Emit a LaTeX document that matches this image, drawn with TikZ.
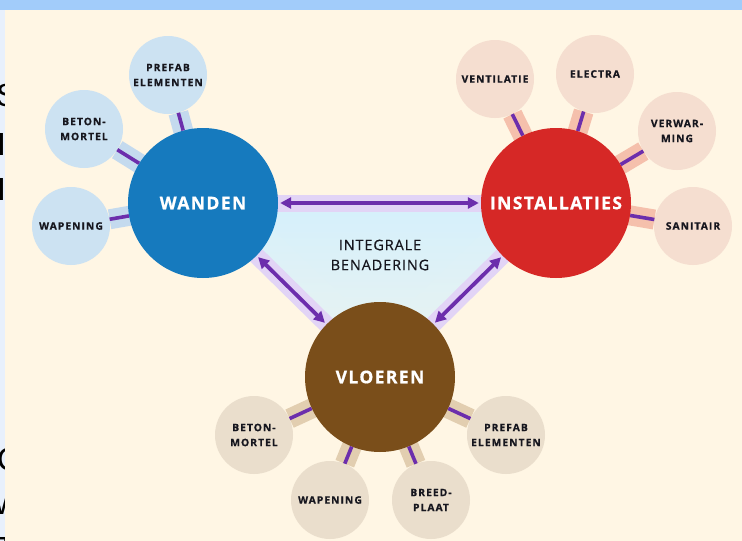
\documentclass[tikz,border=0pt]{standalone}
\usepackage{fontspec}
\setmainfont{Open Sans}
\newfontfamily\fragfont{Liberation Sans}
\usetikzlibrary{arrows.meta}
\definecolor{cream}{RGB}{255,246,228}
\definecolor{topband}{RGB}{162,204,250}
\definecolor{leftstrip}{RGB}{232,240,252}
\definecolor{wblue}{RGB}{22,122,190}
\definecolor{ired}{RGB}{214,40,38}
\definecolor{vbrown}{RGB}{122,78,26}
\definecolor{wsat}{RGB}{204,226,242}
\definecolor{isat}{RGB}{245,222,208}
\definecolor{vsat}{RGB}{234,222,204}
\definecolor{whalo}{RGB}{196,218,238}
\definecolor{ihalo}{RGB}{245,192,172}
\definecolor{vhalo}{RGB}{226,206,176}
\definecolor{purp}{RGB}{108,46,172}
\definecolor{ahalo}{RGB}{226,212,246}
\definecolor{tricyan}{RGB}{214,240,251}
\definecolor{labeltxt}{RGB}{22,22,30}
\tikzset{
  mainc/.style={circle, minimum size=150pt, inner sep=0pt, text=white,
    font=\bfseries\fontsize{17.5}{17.5}\selectfont\addfontfeature{LetterSpace=8,FakeBold=0.8}},
  satc/.style={circle, minimum size=78pt, inner sep=0pt, align=center, text=labeltxt,
    font=\bfseries\fontsize{10.3}{15}\selectfont\addfontfeature{LetterSpace=10,FakeBold=0.8}},
  sathalo/.style={line width=20pt},
  satbar/.style={draw=purp, line width=3.6pt},
  arrhalo/.style={draw=ahalo, line width=17pt},
  biarrow/.style={draw=purp, line width=3.8pt, shorten <=2pt, shorten >=2pt,
    {Triangle[length=11pt,width=11pt]}-{Triangle[length=11pt,width=11pt]}},
  frag/.style={anchor=base west, inner sep=0pt, text=black,
    font=\fragfont\fontsize{32}{32}\selectfont}
}
\begin{document}
\begin{tikzpicture}[x=1pt,y=-1pt]
\useasboundingbox (0,0) rectangle (742,541);
% background
\fill[leftstrip] (0,0) rectangle (742,541);
\node[frag] (f1) at (-4,106) {S};
\node[frag] (f2) at (-3,155) {I};
\node[frag] (f3) at (-3,200) {I};
\node[frag] (f4) at (-3,470) {C};
\node[frag] (f5) at (-7,514) {W};
\node[frag] (f6) at (-4,559) {T};
\fill[cream] (5,9.5) rectangle (742,541);
\fill[topband] (0,0) rectangle (742,9.5);

% coordinates of main circles
\coordinate (cW) at (203,203);
\coordinate (cI) at (556,203);
\coordinate (cV) at (380,377);

% central triangle
\shade[top color=tricyan, bottom color=tricyan!45!cream] (cW) -- (cI) -- (cV) -- cycle;
\draw[arrhalo] (cW) -- (cI);
\draw[arrhalo] (cW) -- (cV);
\draw[arrhalo] (cI) -- (cV);
\shade[top color=tricyan, bottom color=tricyan!60!cream] (256,213) -- (502,213) -- (380,332) -- cycle;

% satellites
\node[satc, fill=wsat] (wp) at (168,75) {PREFAB\\ELEMENTEN};
\node[satc, fill=wsat] (wb) at (84,129) {BETON-\\MORTEL};
\node[satc, fill=wsat] (ww) at (71,226) {WAPENING};
\node[satc, fill=isat] (iv) at (495,79) {VENTILATIE};
\node[satc, fill=isat] (ie) at (595,74) {ELECTRA};
\node[satc, fill=isat] (ivw) at (677,131) {VERWAR-\\MING};
\node[satc, fill=isat] (is) at (693,226) {SANITAIR};
\node[satc, fill=vsat] (vb) at (254,435) {BETON-\\MORTEL};
\node[satc, fill=vsat] (vw) at (330,500) {WAPENING};
\node[satc, fill=vsat] (vbp) at (431,500) {BREED-\\PLAAT};
\node[satc, fill=vsat] (vp) at (506,435) {PREFAB\\ELEMENTEN};

% satellite halos (behind main circles)
\draw[sathalo, whalo] (wp) -- (cW);
\draw[sathalo, whalo] (wb) -- (cW);
\draw[sathalo, whalo] (ww) -- (cW);
\draw[sathalo, ihalo] (iv) -- (cI);
\draw[sathalo, ihalo] (ie) -- (cI);
\draw[sathalo, ihalo] (ivw) -- (cI);
\draw[sathalo, ihalo] (is) -- (cI);
\draw[sathalo, vhalo] (vb) -- (cV);
\draw[sathalo, vhalo] (vw) -- (cV);
\draw[sathalo, vhalo] (vbp) -- (cV);
\draw[sathalo, vhalo] (vp) -- (cV);

% main circles
\node[mainc, fill=wblue] (W) at (cW) {WANDEN};
\node[mainc, fill=ired] (I) at (cI) {INSTALLATIES};
\node[mainc, fill=vbrown] (V) at (cV) {VLOEREN};

% purple bars
\draw[satbar] (wp) -- (W);
\draw[satbar] (wb) -- (W);
\draw[satbar] (ww) -- (W);
\draw[satbar] (iv) -- (I);
\draw[satbar] (ie) -- (I);
\draw[satbar] (ivw) -- (I);
\draw[satbar] (is) -- (I);
\draw[satbar] (vb) -- (V);
\draw[satbar] (vw) -- (V);
\draw[satbar] (vbp) -- (V);
\draw[satbar] (vp) -- (V);

% double arrows
\draw[biarrow] (W) -- (I);
\draw[biarrow] (W) -- (V);
\draw[biarrow] (I) -- (V);

% central text
\node[align=center, text=labeltxt,
  font=\fontsize{14.5}{20}\selectfont\addfontfeature{LetterSpace=6,FakeBold=0.6}] (ib) at (380,255) {INTEGRALE\\BENADERING};
\end{tikzpicture}
\end{document}
